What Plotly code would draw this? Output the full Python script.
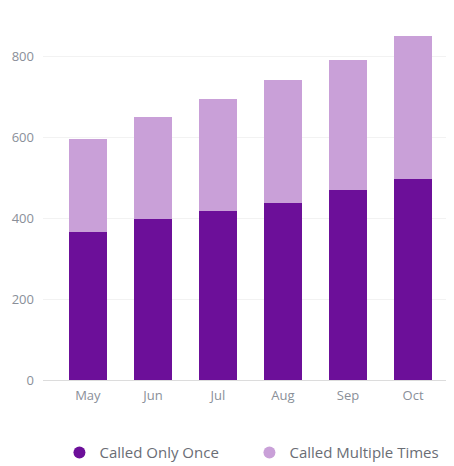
import plotly.graph_objects as go

months = ["May", "Jun", "Jul", "Aug", "Sep", "Oct"]
called_once = [365, 398, 418, 438, 470, 497]
called_multiple = [231, 252, 277, 304, 321, 353]
series_names = ["Called Only Once", "Called Multiple Times"]
colors = ["#6c0f99", "#c9a0d8"]
y_ticks = [0, 200, 400, 600, 800]

fig = go.Figure()
for name, vals, col in zip(series_names, [called_once, called_multiple], colors):
    fig.add_trace(go.Bar(x=months, y=vals, name=name, marker_color=col,
                         marker_line_width=0, showlegend=False))
for name, col in zip(series_names, colors):
    fig.add_trace(go.Scatter(x=[None], y=[None], mode="markers", name=name,
                             marker=dict(symbol="circle", size=13, color=col)))

fig.update_layout(
    width=446, height=458,
    barmode="stack", bargap=0.415,
    plot_bgcolor="white", paper_bgcolor="white",
    margin=dict(l=35, r=0, t=7.5, b=86, autoexpand=False),
    font=dict(family="Open Sans", size=12, color="#8a8f99"),
    showlegend=True,
    legend=dict(orientation="h", x=0.04, xanchor="left", y=-0.2, yanchor="middle",
                traceorder="normal",
                font=dict(size=15, color="#6a6d75"), entrywidth=145, itemsizing="constant"),
    xaxis=dict(range=[-0.69, 5.63], showgrid=False, ticks="", showline=False,
               ticklabelstandoff=6, tickfont=dict(size=13, color="#8a8f99")),
    yaxis=dict(range=[0, 900], tickvals=y_ticks, showgrid=True, gridcolor="#f2f2f2",
               zeroline=True, zerolinecolor="#dcdcdc", zerolinewidth=1,
               ticks="", ticklabelstandoff=8, tickfont=dict(size=13, color="#8a8f99")),
)
fig.write_html("out.html")
